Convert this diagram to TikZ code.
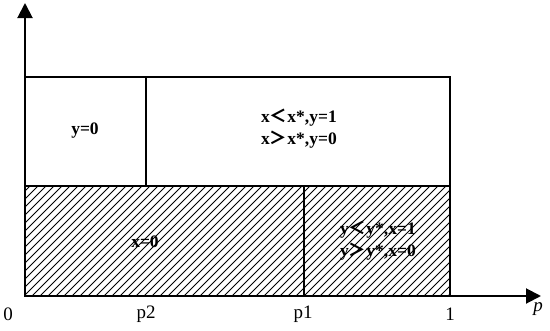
\documentclass[tikz,border=0pt]{standalone}
\usepackage{fontspec}
\setmainfont{Liberation Serif}
\newfontfamily\cjk{Noto Sans CJK SC}
\usetikzlibrary{arrows.meta}
\begin{document}
\begin{tikzpicture}[x=1pt,y=-1pt,
  frame/.style={line width=2pt},
  hatch/.style={line width=1pt},
  lbl/.style={font=\fontsize{17.5}{22}\selectfont\bfseries, align=center},
  tick/.style={font=\fontsize{19}{21}\selectfont}]
\useasboundingbox (0,0) rectangle (550,330);
% hatching
\begin{scope}
\clip (25,186) rectangle (450,296);
\foreach \i in {-120,-112,...,450}
  \draw[hatch] (\i,296) -- (\i+110,186);
\end{scope}
% regions
\draw[frame] (25,77) rectangle (450,296);
\draw[frame] (25,186) -- (450,186);
\draw[frame] (146,77) -- (146,186);
\draw[frame] (304,186) -- (304,296);
% axes
\coordinate (o) at (25,296);
\coordinate (ytip) at (25,3);
\coordinate (xtip) at (541,296);
\draw[frame,-{Triangle[length=15pt,width=15pt]}] (o) -- (ytip);
\draw[frame,-{Triangle[length=15pt,width=15pt]}] (o) -- (xtip);
% labels
\node[lbl] (r1) at (85,131) {y=0};
\node[lbl] (r2) at (299,129) {x{\cjk ＜}x*,y=1\\x{\cjk ＞}x*,y=0};
\node[lbl] (r3) at (145,242) {x=0};
\node[lbl] (r4) at (378,241) {y{\cjk ＜}y*,x=1\\y{\cjk ＞}y*,x=0};
\node[tick] (t0) at (8,314) {0};
\node[tick] (t1) at (146,314) {p2};
\node[tick] (t2) at (303,314) {p1};
\node[tick] (t3) at (450,314) {1};
\node[tick,font=\fontsize{19}{21}\selectfont\itshape] (tp) at (538,309) {p};
\end{tikzpicture}
\end{document}
